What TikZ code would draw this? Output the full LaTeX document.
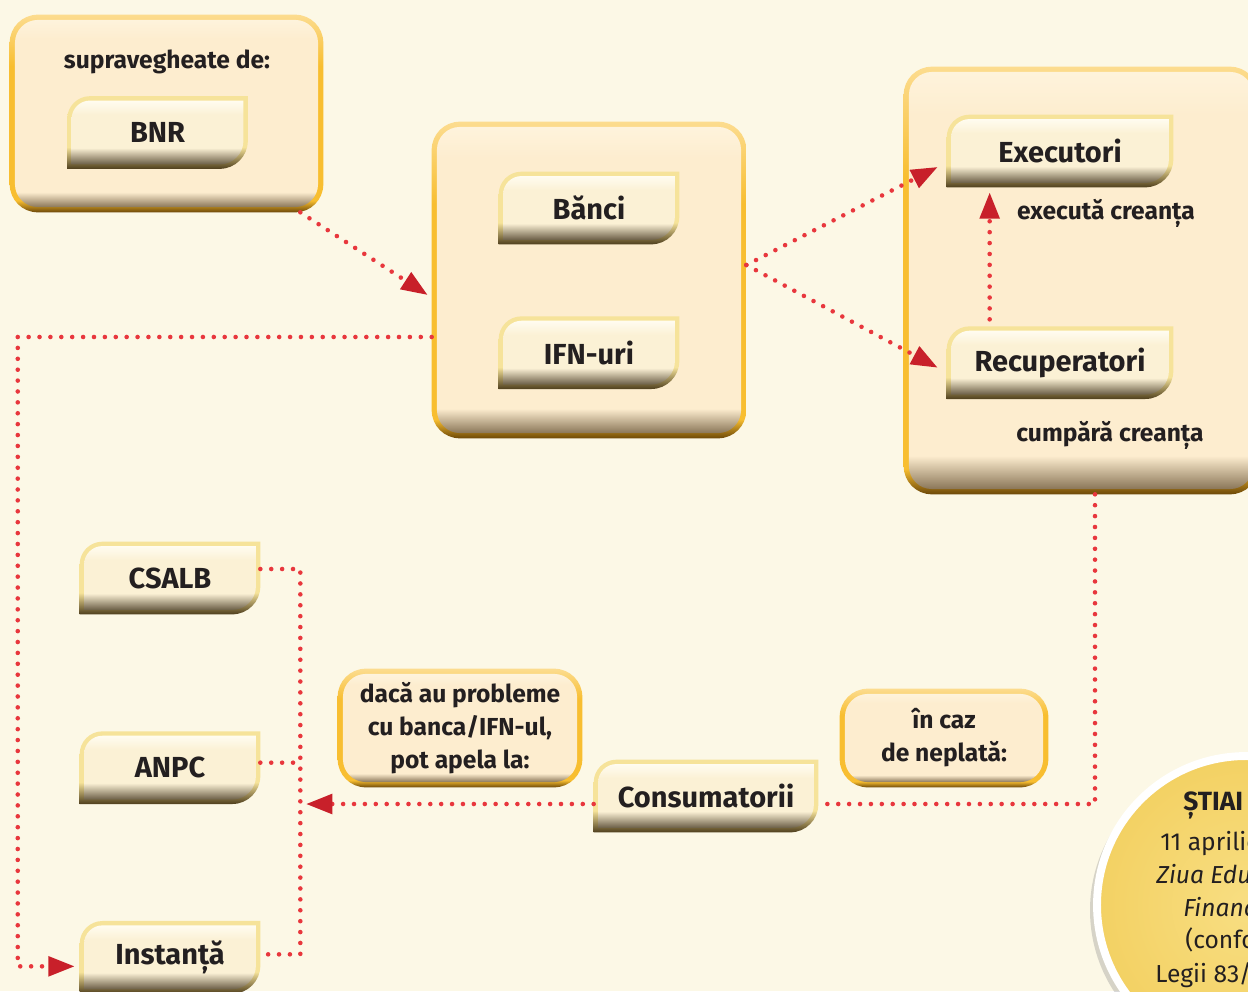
\documentclass[tikz,border=0pt]{standalone}
\usepackage{fontspec}
\setmainfont{Fira Sans}
\usetikzlibrary{arrows.meta,positioning,shadows}

\definecolor{paper}{HTML}{FCF8E6}
\definecolor{ink}{HTML}{231F20}
\definecolor{rimlight}{HTML}{FCDC8F}
\definecolor{rimgold}{HTML}{F8BE30}
\definecolor{rimdark}{HTML}{6C4808}
\definecolor{boxtop}{HTML}{FEF3DC}
\definecolor{boxfill}{HTML}{FDEDCF}
\definecolor{boxshadow}{HTML}{8A7658}
\definecolor{taglight}{HTML}{F6E39A}
\definecolor{tagdark}{HTML}{4E3E1C}
\definecolor{tagtop}{HTML}{FFFCF0}
\definecolor{tagfill}{HTML}{FBF1D5}
\definecolor{tagshadow}{HTML}{6A5D45}
\definecolor{dotred}{HTML}{E8373D}
\definecolor{tipred}{HTML}{C8202A}
\definecolor{quizgold}{HTML}{F3D163}
\definecolor{quizlight}{HTML}{F8DE82}

\pgfdeclareverticalshading{panelrim}{100bp}{color(0bp)=(rimdark); color(25bp)=(rimdark); color(28bp)=(rimgold); color(62bp)=(rimgold); color(75bp)=(rimlight); color(100bp)=(rimlight)}
\pgfdeclareverticalshading{panelfill}{100bp}{color(0bp)=(boxshadow); color(25bp)=(boxshadow); color(29bp)=(boxfill); color(70bp)=(boxfill); color(75bp)=(boxtop); color(100bp)=(boxtop)}
\pgfdeclareverticalshading{leafrim}{100bp}{color(0bp)=(tagdark); color(25bp)=(tagdark); color(40bp)=(taglight); color(100bp)=(taglight)}
\pgfdeclareverticalshading{leaffill}{100bp}{color(0bp)=(tagshadow); color(25bp)=(tagshadow); color(38bp)=(tagfill); color(64bp)=(tagfill); color(75bp)=(tagtop); color(100bp)=(tagtop)}

\pgfdeclarelayer{panels}
\pgfdeclarelayer{leaves}
\pgfsetlayers{panels,leaves,main}

\begin{document}
\begin{tikzpicture}[x=0.02cm, y=-0.02cm,
    panel/.style n args={2}{minimum width=#1, minimum height=#2, inner sep=0pt, align=center, text=ink, font=\bfseries\fontsize{14}{18.7}\selectfont},
    leaf/.style={minimum width=3.6cm, minimum height=1.44cm, inner sep=0pt, text=ink, font=\bfseries\fontsize{16.5}{20}\selectfont},
    remark/.style={text=ink, align=center, font=\bfseries\fontsize{14}{18.7}\selectfont},
    link/.style={draw=dotred, line width=2.6pt, line cap=round, dash pattern=on 0pt off 6.2pt},
    redtip/.style={-{Triangle[length=15pt, width=11pt, color=tipred]}},
    quizline/.style={anchor=base west, inner sep=0pt, text=ink, font=\fontsize{14}{18}\selectfont}]
	\useasboundingbox (0,0) rectangle (1248,991);

	% panels
	\node[panel={6.26cm}{3.94cm}] (sup) at (166.5,113.5) {};
	\node[panel={6.28cm}{6.32cm}] (banks) at (589,280) {};
	\node[panel={7.08cm}{8.54cm}] (debt) at (1081,280.5) {};
	\node[panel={4.88cm}{2.36cm}] (help) at (460,728) {dacă au probleme\\cu banca/IFN-ul,\\pot apela la:};
	\node[panel={4.16cm}{1.96cm}] (unpaid) at (944,738) {în caz\\de neplată:};

	\node[remark] (supnote) at (167,62) {supravegheate de:};
	\node[remark] (execnote) at (1106,213) {execută creanța};
	\node[remark] (recupnote) at (1110,435) {cumpără creanța};

	% leaves
	\node[leaf] (bnr) at (157.5,132.5) {BNR};
	\node[leaf] (banci) at (589,208) {Bănci};
	\node[leaf, below=1.44cm of banci] (ifn) {IFN-uri};
	\node[leaf, minimum width=4.52cm] (exec) at (1060,151) {Executori};
	\node[leaf, minimum width=4.52cm, below=2.78cm of exec] (recup) {Recuperatori};
	\node[leaf] (csalb) at (170,578) {CSALB};
	\node[leaf, below=2.34cm of csalb] (anpc) {ANPC};
	\node[leaf, below=2.34cm of anpc] (inst) {Instanță};
	\node[leaf, minimum width=4.48cm] (cons) at (706,796) {Consumatorii};

	\begin{pgfonlayer}{panels}
		\fill[paper] (0,0) rectangle (1248,991);
		\foreach \n in {sup,banks,debt,help,unpaid}{
			\shade[shading=panelrim, rounded corners=16pt] (\n.south west) rectangle (\n.north east);
			\shade[shading=panelfill, rounded corners=13pt] ([shift={(3pt,3pt)}]\n.south west) rectangle ([shift={(-3pt,-3pt)}]\n.north east);
		}
	\end{pgfonlayer}
	\begin{pgfonlayer}{leaves}
		\foreach \n in {bnr,banci,ifn,exec,recup,csalb,anpc,inst,cons}{
			\shade[shading=leafrim] (\n.south west) -- ([yshift=-13pt]\n.north west) arc[start angle=180, end angle=90, radius=13pt] -- (\n.north east) -- ([yshift=16pt]\n.south east) arc[start angle=0, end angle=-90, radius=16pt] -- cycle;
			\shade[shading=leaffill] ([shift={(2.5pt,2.5pt)}]\n.south west) -- ([shift={(2.5pt,-13pt)}]\n.north west) arc[start angle=180, end angle=90, radius=10.5pt] -- ([shift={(-2.5pt,-2.5pt)}]\n.north east) -- ([shift={(-2.5pt,16pt)}]\n.south east) arc[start angle=0, end angle=-90, radius=13.5pt] -- cycle;
		}
	\end{pgfonlayer}

	% connectors
	\coordinate (hub) at (306,804);
	\draw[link, redtip] ([xshift=-0.46cm]sup.south east) -- ([xshift=-0.08cm, yshift=-0.3cm]banks.west);
	\draw[link, redtip] ([yshift=0.3cm]banks.east) -- ([xshift=-0.18cm, yshift=-0.32cm]exec.west);
	\draw[link, redtip] ([yshift=0.3cm]banks.east) -- ([xshift=-0.18cm, yshift=-0.1cm]recup.west);
	\draw[link, redtip] ([xshift=0.86cm, yshift=0.14cm]recup.north west) -- ([xshift=0.86cm, yshift=-0.1cm]exec.south west);
	\draw[link, redtip] ([yshift=-1.14cm]banks.west) -- ++(-8.28cm,0) |- ([xshift=-0.1cm, yshift=-0.18cm]inst.west);
	\draw[link] ([xshift=0.28cm]debt.south) |- ([yshift=-0.16cm]cons.east);
	\draw[link, redtip] ([yshift=-0.16cm]cons.west) -- (hub);
	\draw[link] ([yshift=0.18cm]csalb.east) -| ([xshift=0.8cm, yshift=0.06cm]inst.east) -- ([yshift=0.06cm]inst.east);
	\draw[link] ([yshift=0.1cm]anpc.east) -- ++(0.8cm,0);

	% did you know
	\node[circle, minimum size=5.96cm, draw=white, line width=4.5pt, inner color=quizlight, outer color=quizgold,
		drop shadow={shadow xshift=-4pt, shadow yshift=-3pt, opacity=.3}] (quiz) at (1246,905) {};
	\node[quizline, font=\bfseries\fontsize{15}{18}\selectfont] (qhead) at (1183,810) {ȘTIAI};
	\node[quizline] (qdate) at (1160,850) {11 aprilie};
	\node[quizline, font=\itshape\fontsize{14}{18}\selectfont] (qday) at (1156,883) {Ziua Edu};
	\node[quizline, font=\itshape\fontsize{14}{18}\selectfont] (qfin) at (1183,916) {Financ};
	\node[quizline] (qconf) at (1185,948) {(confo};
	\node[quizline] (qlaw) at (1155,982) {Legii 83/};
\end{tikzpicture}
\end{document}
